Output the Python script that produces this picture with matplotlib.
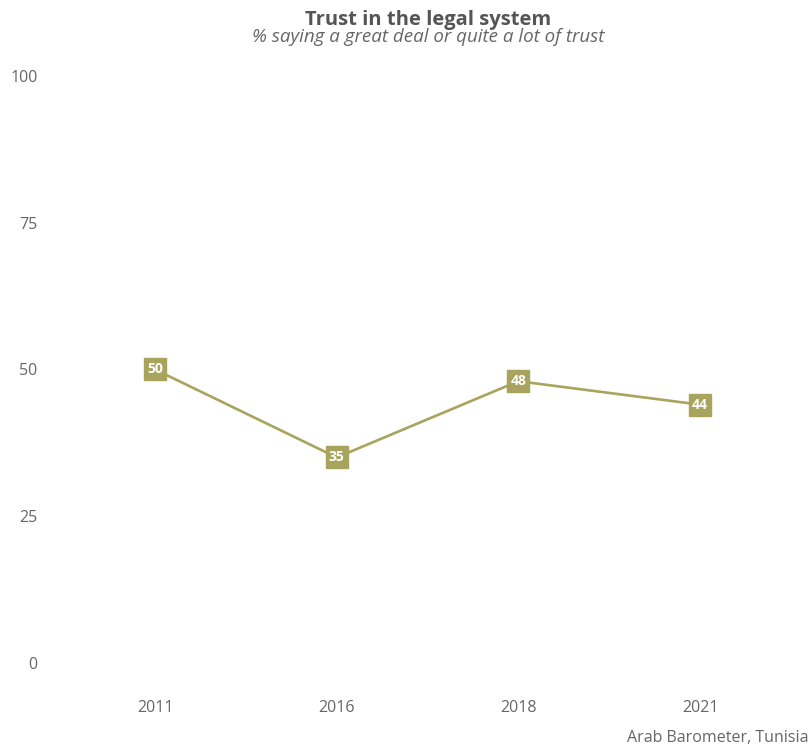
import matplotlib
matplotlib.use("Agg")
import matplotlib.pyplot as plt

years = ["2011", "2016", "2018", "2021"]
trust = [50, 35, 48, 44]
yticks = [0, 25, 50, 75, 100]

line_color = "#A8A45E"
text_color = "#666666"

plt.rcParams["font.family"] = ["Open Sans", "DejaVu Sans"]

fig = plt.figure(figsize=(8.12, 7.48), dpi=100)
ax = fig.add_axes([0.0567, 0.0749, 0.9396, 0.8623])

x = list(range(len(years)))
ax.plot(x, trust, color=line_color, lw=1.9, marker="s", ms=16.5,
        markerfacecolor=line_color, markeredgecolor=line_color, zorder=2)
for xi, v in zip(x, trust):
    ax.text(xi, v, str(v), ha="center", va="center", color="white",
            fontsize=10, fontweight="bold", zorder=3)

ax.set_xlim(-0.6, len(years) - 1 + 0.6)
ax.set_ylim(-5, 105)
ax.set_xticks(x)
ax.set_xticklabels(years)
ax.set_yticks(yticks)
ax.tick_params(length=0, labelsize=11.5, labelcolor=text_color, pad=6)
for s in ax.spines.values():
    s.set_visible(False)

fig.text(0.527, 0.967, "Trust in the legal system", ha="center", va="baseline",
         fontsize=14.5, fontweight="bold", color="#555555")
fig.text(0.527, 0.944, "% saying a great deal or quite a lot of trust", ha="center",
         va="baseline", fontsize=13.5, style="italic", color=text_color)
fig.text(0.996, 0.013, "Arab Barometer, Tunisia", ha="right", va="center",
         fontsize=11.5, color=text_color)

fig.savefig("out.png", dpi=100)
